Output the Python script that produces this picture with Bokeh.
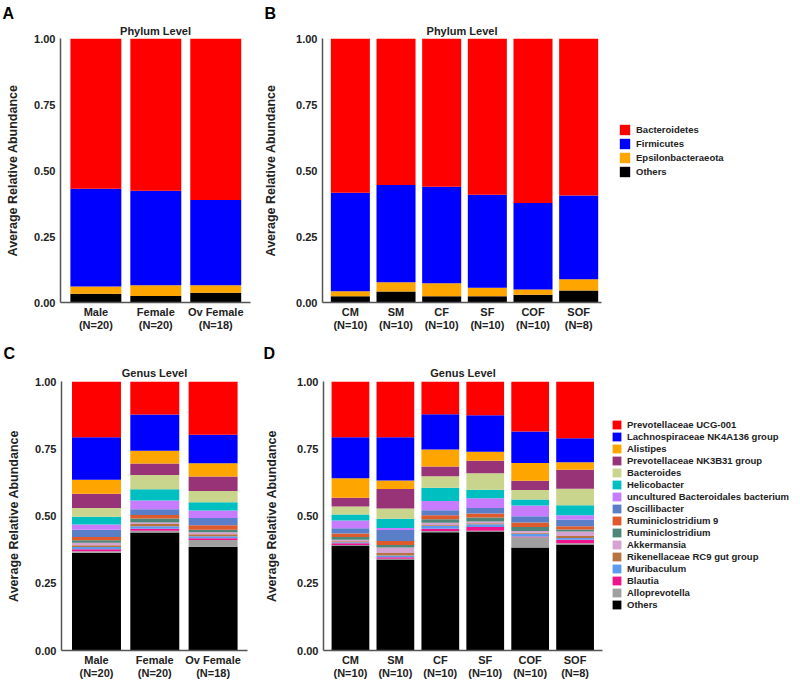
from bokeh.plotting import figure
from bokeh.models import (Range1d, FixedTicker, Legend, LegendItem, Title,
                          ColumnDataSource, NumeralTickFormatter)
from bokeh.layouts import row, column
from bokeh.embed import file_html
from bokeh.resources import INLINE

FONT = "Liberation Sans"

# ---------------- Phylum level data (stack order: bottom -> top) ----------------
phylum_names = ["Others", "Epsilonbacteraeota", "Firmicutes", "Bacteroidetes"]
phylum_colors = ["#000000", "#FFA500", "#0000FF", "#FF0000"]

sex_groups = ["Male\n(N=20)", "Female\n(N=20)", "Ov Female\n(N=18)"]
sex_others = [0.033, 0.025, 0.037]
sex_epsilon = [0.028, 0.040, 0.028]
sex_firmicutes = [0.370, 0.358, 0.323]
sex_bacteroidetes = [0.569, 0.577, 0.612]

trt_groups = ["CM\n(N=10)", "SM\n(N=10)", "CF\n(N=10)", "SF\n(N=10)",
              "COF\n(N=10)", "SOF\n(N=8)"]
trt_others = [0.024, 0.042, 0.024, 0.024, 0.029, 0.045]
trt_epsilon = [0.019, 0.035, 0.049, 0.032, 0.020, 0.043]
trt_firmicutes = [0.373, 0.368, 0.365, 0.352, 0.328, 0.317]
trt_bacteroidetes = [0.584, 0.555, 0.562, 0.592, 0.623, 0.595]

# ---------------- Genus level data (stack order: bottom -> top) ----------------
genus_names = ["Others", "Alloprevotella", "Blautia", "Muribaculum",
               "Rikenellaceae RC9 gut group", "Akkermansia", "Ruminiclostridium",
               "Ruminiclostridium 9", "Oscillibacter",
               "uncultured Bacteroidales bacterium", "Helicobacter", "Bacteroides",
               "Prevotellaceae NK3B31 group", "Alistipes",
               "Lachnospiraceae NK4A136 group", "Prevotellaceae UCG-001"]
genus_colors = ["#000000", "#A0A0A0", "#F0148C", "#5C9BEF", "#B87440", "#D6A2D2",
                "#4F867A", "#DE5A2C", "#5A7EC7", "#C77CFF", "#00BFC0", "#C9D48C",
                "#993377", "#FFA500", "#0000FF", "#FF0000"]

male_genus = [0.363, 0.006, 0.007, 0.009, 0.006, 0.010, 0.009, 0.012, 0.027,
              0.019, 0.029, 0.033, 0.053, 0.052, 0.158, 0.207]
female_genus = [0.439, 0.006, 0.008, 0.009, 0.008, 0.006, 0.015, 0.013, 0.021,
                0.033, 0.041, 0.053, 0.043, 0.048, 0.134, 0.123]
ovfemale_genus = [0.386, 0.025, 0.006, 0.008, 0.007, 0.008, 0.009, 0.017, 0.027,
                  0.027, 0.031, 0.042, 0.054, 0.049, 0.106, 0.198]

cm_genus = [0.390, 0.002, 0.007, 0.003, 0.004, 0.006, 0.010, 0.013, 0.019,
            0.029, 0.023, 0.029, 0.033, 0.072, 0.153, 0.207]
sm_genus = [0.338, 0.003, 0.006, 0.006, 0.009, 0.021, 0.009, 0.015, 0.041,
            0.007, 0.035, 0.038, 0.072, 0.032, 0.161, 0.207]
cf_genus = [0.440, 0.004, 0.009, 0.011, 0.003, 0.008, 0.013, 0.015, 0.018,
            0.035, 0.049, 0.043, 0.036, 0.063, 0.131, 0.122]
sf_genus = [0.442, 0.003, 0.014, 0.010, 0.004, 0.007, 0.014, 0.015, 0.021,
            0.036, 0.032, 0.061, 0.046, 0.034, 0.136, 0.125]
cof_genus = [0.383, 0.038, 0.003, 0.010, 0.004, 0.006, 0.015, 0.017, 0.023,
             0.040, 0.022, 0.036, 0.034, 0.066, 0.117, 0.186]
sof_genus = [0.394, 0.005, 0.013, 0.006, 0.008, 0.016, 0.008, 0.012, 0.025,
             0.016, 0.037, 0.061, 0.071, 0.028, 0.089, 0.211]

sex_genus = [male_genus, female_genus, ovfemale_genus]
trt_genus = [cm_genus, sm_genus, cf_genus, sf_genus, cof_genus, sof_genus]


def base_fig(w, h, xr, bl, br, bt, bb, groups, y_standoff, letter, title,
             letter_dx, title_standoff):
    p = figure(width=w, height=h, x_range=Range1d(*xr), y_range=Range1d(0, 1),
               output_backend="svg", toolbar_location=None,
               min_border_left=bl, min_border_right=br,
               min_border_top=bt, min_border_bottom=bb)
    p.outline_line_color = None
    p.xgrid.visible = False
    p.ygrid.visible = False
    p.background_fill_color = "white"
    p.border_fill_color = "white"
    for ax in (p.xaxis[0], p.yaxis[0]):
        ax.axis_line_color = "#555555"
        ax.axis_line_width = 1.5
        ax.major_tick_line_color = None
        ax.minor_tick_line_color = None
        ax.major_tick_out = 0
        ax.major_tick_in = 0
        ax.major_label_text_font = FONT
        ax.major_label_text_font_style = "bold"
        ax.major_label_text_font_size = "11px"
        ax.major_label_text_color = "#222222"
    xa = p.xaxis[0]
    xa.ticker = FixedTicker(ticks=list(range(len(groups))), minor_ticks=[])
    xa.major_label_overrides = {i: g for i, g in enumerate(groups)}
    xa.major_label_standoff = 3
    xa.major_label_text_line_height = 1.12
    ya = p.yaxis[0]
    ya.ticker = FixedTicker(ticks=[0, 0.25, 0.5, 0.75, 1.0], minor_ticks=[])
    ya.formatter = NumeralTickFormatter(format="0.00")
    ya.major_label_standoff = 5
    ya.axis_label = "Average Relative Abundance"
    ya.axis_label_text_font = FONT
    ya.axis_label_text_font_style = "bold"
    ya.axis_label_text_font_size = "12.5px"
    ya.axis_label_text_color = "#222222"
    ya.axis_label_standoff = y_standoff
    # panel letter (outer) and subplot title (next to the frame)
    p.title.text = letter
    p.title.align = "left"
    p.title.offset = letter_dx
    p.title.standoff = 0
    p.title.text_font = FONT
    p.title.text_font_style = "bold"
    p.title.text_font_size = "16px"
    p.title.text_color = "#000000"
    p.add_layout(Title(text=title, align="center", standoff=title_standoff,
                       text_font=FONT, text_font_style="bold",
                       text_font_size="11px", text_color="#222222"), "above")
    return p


def add_stack(p, names, colors, groups, columns, width):
    data = {"x": list(range(len(groups)))}
    for name, col in zip(names, columns):
        data[name] = col
    src = ColumnDataSource(data)
    return p.vbar_stack(names, x="x", width=width, source=src,
                        fill_color=colors, line_color=None)


def legend_fig(w, h, names, colors, groups, columns, loc, gw, gh, font_size):
    # the same stacked series, drawn outside the visible range, feed the legend
    q = figure(width=w, height=h, x_range=Range1d(-200, -199), y_range=Range1d(0, 1),
               output_backend="svg", toolbar_location=None,
               x_axis_location=None, y_axis_location=None, min_border=0)
    q.outline_line_color = None
    q.xgrid.visible = False
    q.ygrid.visible = False
    rs = add_stack(q, names, colors, groups, columns, 0.8)
    items = [LegendItem(label=n, renderers=[r])
             for n, r in reversed(list(zip(names, rs)))]
    lg = Legend(items=items, location=loc, glyph_width=gw, glyph_height=gh,
                label_height=gh, spacing=1, label_standoff=5, padding=0, margin=0,
                border_line_color=None, background_fill_alpha=0,
                label_text_font=FONT, label_text_font_style="bold",
                label_text_font_size=font_size, label_text_color="#222222")
    q.add_layout(lg, "center")
    return q


trt_phylum_cols = [trt_others, trt_epsilon, trt_firmicutes, trt_bacteroidetes]
trt_genus_cols = [list(v) for v in zip(*trt_genus)]

# ---------------- Panel A ----------------
pA = base_fig(258, 340, (-0.59, 2.58), 60, 8, 38, 38, sex_groups, 11,
              "A", "Phylum Level", -58, 3)
add_stack(pA, phylum_names, phylum_colors, sex_groups,
          [sex_others, sex_epsilon, sex_firmicutes, sex_bacteroidetes], 0.85)

# ---------------- Panel B ----------------
pB = base_fig(351, 340, (-0.61, 5.5), 64, 8, 38, 38, trt_groups, 15,
              "B", "Phylum Level", -58, 3)
add_stack(pB, phylum_names, phylum_colors, trt_groups, trt_phylum_cols, 0.855)
legB = legend_fig(190, 340, phylum_names, phylum_colors, trt_groups,
                  trt_phylum_cols, (9, 124), 13, 13, "9.5px")

# ---------------- Panel C ----------------
pC = base_fig(258, 341, (-0.6, 2.59), 61, 11, 41, 29, sex_groups, 11,
              "C", "Genus Level", -58, 6)
add_stack(pC, genus_names, genus_colors, sex_groups,
          [list(v) for v in zip(*sex_genus)], 0.84)

# ---------------- Panel D ----------------
pD = base_fig(352, 341, (-0.6, 5.61), 65, 8, 41, 29, trt_groups, 15,
              "D", "Genus Level", -60, 6)
add_stack(pD, genus_names, genus_colors, trt_groups, trt_genus_cols, 0.84)
legD = legend_fig(189, 341, genus_names, genus_colors, trt_groups,
                  trt_genus_cols, (1, 40), 11, 11, "9.5px")

layout = column(row(pA, pB, legB), row(pC, pD, legD))

open("out.html", "w").write(file_html(layout, INLINE, "Relative abundance"))
